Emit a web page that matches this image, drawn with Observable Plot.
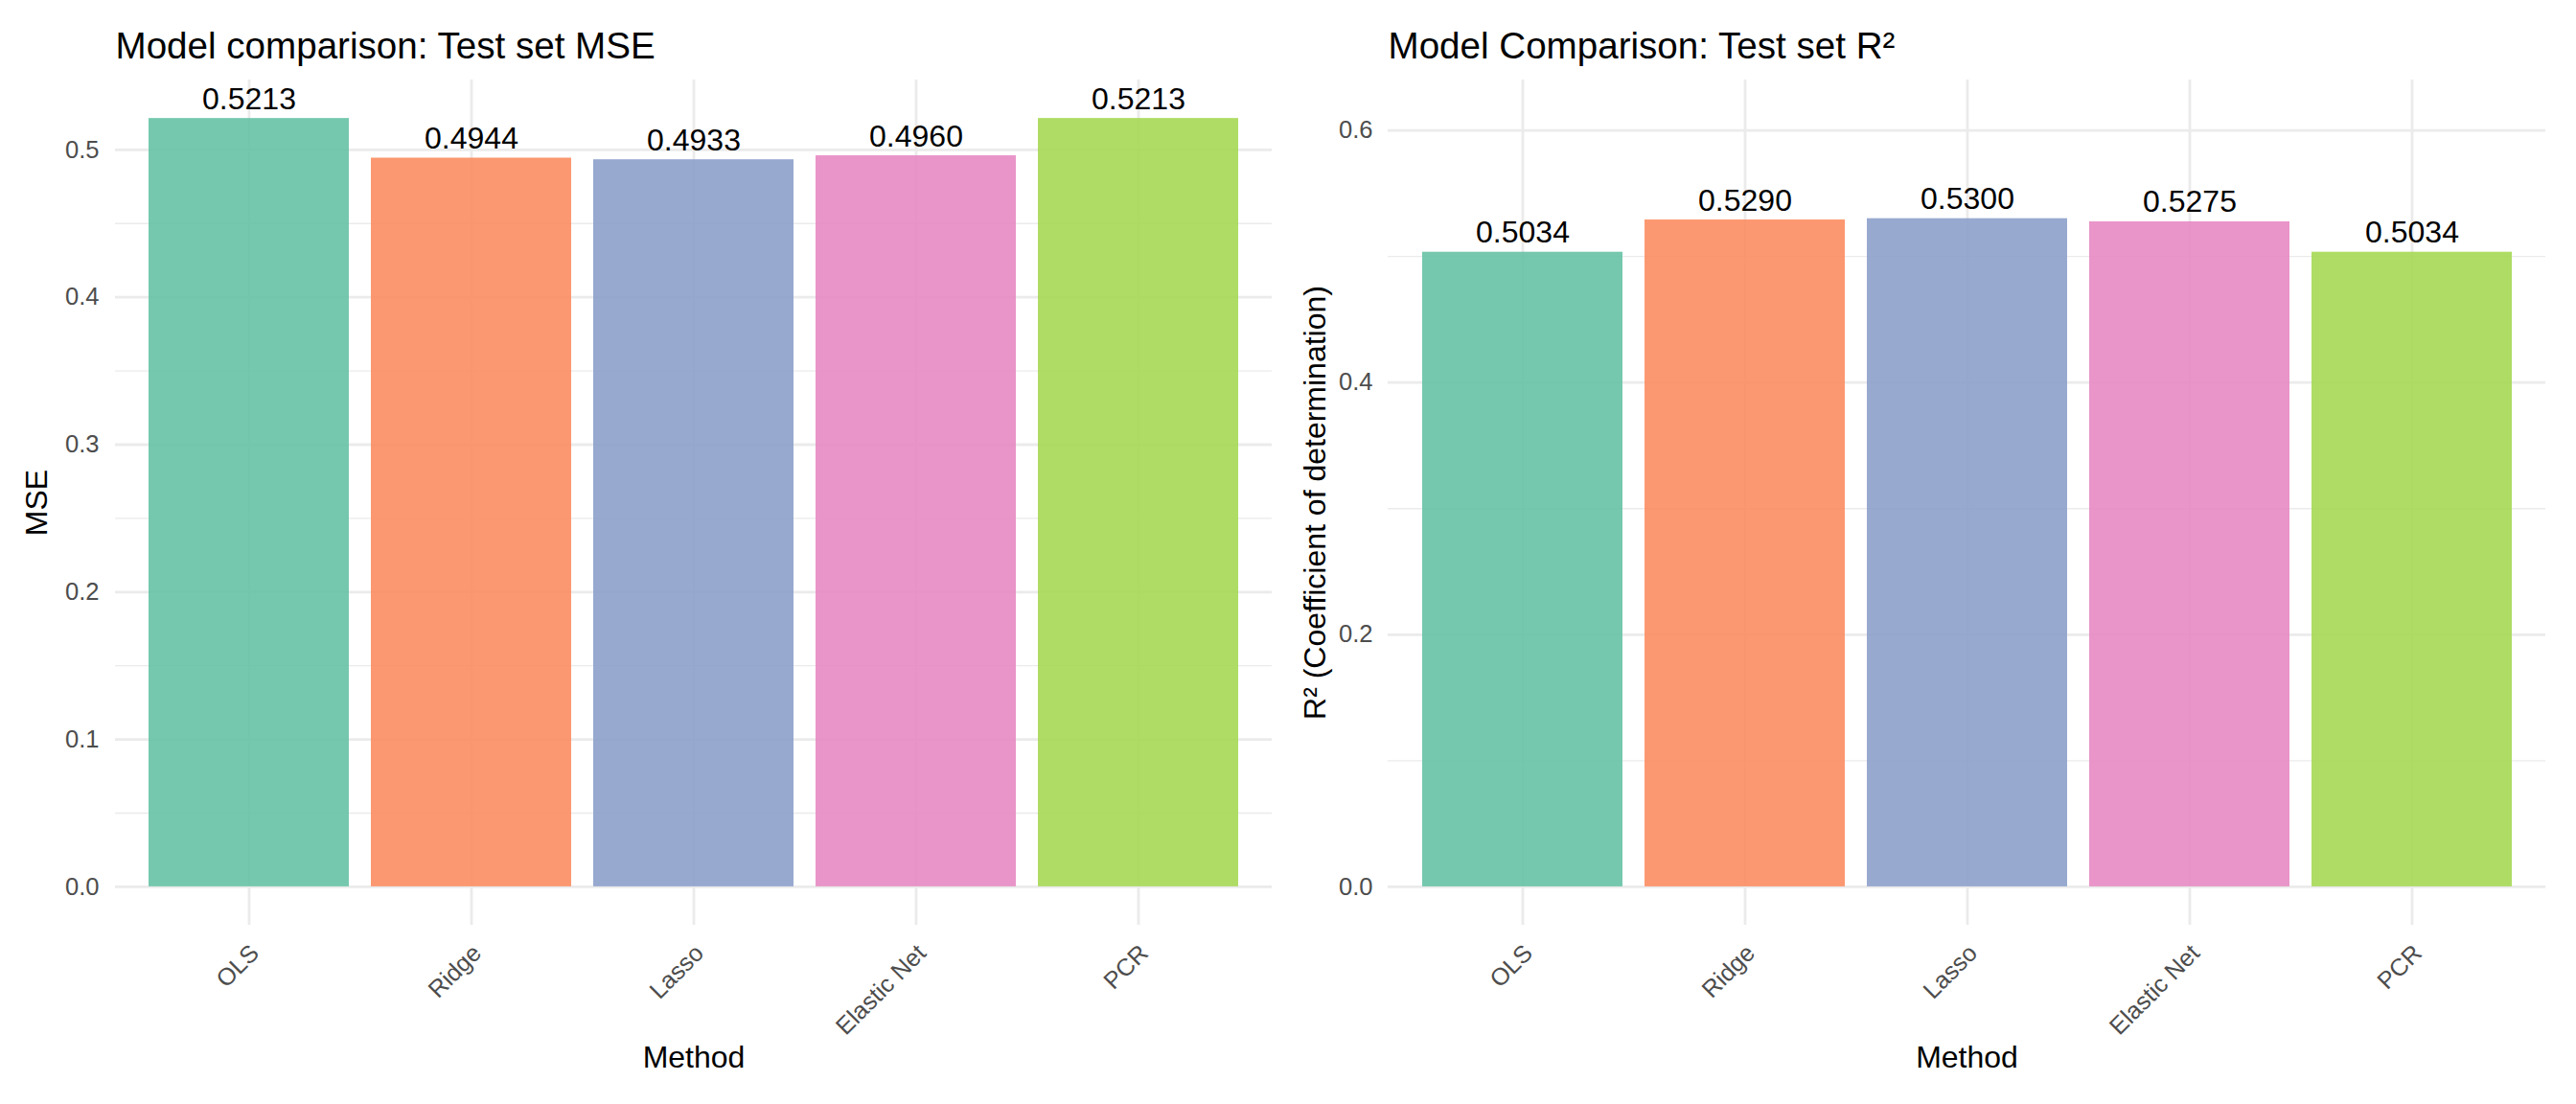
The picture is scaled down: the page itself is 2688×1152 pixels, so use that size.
<!DOCTYPE html>
<html>
<head>
<meta charset="utf-8">
<script src="https://cdn.jsdelivr.net/npm/d3@7"></script>
<script src="https://cdn.jsdelivr.net/npm/@observablehq/plot@0.6"></script>
<style>
  html, body { margin: 0; padding: 0; background: white; }
  #wrap { display: flex; width: 2688px; height: 1152px; }
  #wrap > div { width: 1344px; height: 1152px; }
</style>
</head>
<body>
<div id="wrap"><div id="left"></div><div id="right"></div></div>
<script>
const methods = ["OLS", "Ridge", "Lasso", "Elastic Net", "PCR"];
const mseValues = [0.5213, 0.4944, 0.4933, 0.4960, 0.5213];
const r2Values = [0.5034, 0.5290, 0.5300, 0.5275, 0.5034];
const colors = ["#66C2A5", "#FC8D62", "#8DA0CB", "#E78AC3", "#A6D854"];
const mseMajor = [0, 0.1, 0.2, 0.3, 0.4, 0.5];
const mseMinor = [0.05, 0.15, 0.25, 0.35, 0.45];
const r2Major = [0, 0.2, 0.4, 0.6];
const r2Minor = [0.1, 0.3, 0.5];

const FONT = "'Liberation Sans', Arial, Helvetica, sans-serif";
const GRID = "#EBEBEB";

function panel({values, major, minor, domain, title, ylab, marginLeft, marginRight, ylabDx, tickPadding}) {
  const data = methods.map((m, i) => ({method: m, value: values[i]}));
  return Plot.plot({
    width: 1344,
    height: 1152,
    marginLeft,
    marginRight,
    marginTop: 83,
    marginBottom: 187,
    style: {fontFamily: FONT, background: "white"},
    x: {domain: methods, paddingInner: 0.1, paddingOuter: 0.15, label: null, axis: null},
    y: {domain, label: null},
    color: {domain: methods, range: colors},
    marks: [
      Plot.gridY(minor, {stroke: GRID, strokeOpacity: 1, strokeWidth: 1.4}),
      Plot.gridY(major, {stroke: GRID, strokeOpacity: 1, strokeWidth: 2.8}),
      Plot.gridX(methods, {stroke: GRID, strokeOpacity: 1, strokeWidth: 2.8}),
      Plot.barY(data, {x: "method", y: "value", fill: "method", fillOpacity: 0.9}),
      Plot.text(data, {x: "method", y: "value", text: d => d.value.toFixed(4), dy: -10, lineAnchor: "bottom", fontSize: 32, fill: "black"}),
      Plot.axisY(major, {tickSize: 0, tickPadding, fontSize: 25.6, fill: "#4D4D4D", tickFormat: d3.format(".1f"), label: null}),
      Plot.text(methods, {x: d => d, frameAnchor: "bottom", rotate: -45, textAnchor: "end", lineAnchor: "top", dx: -1, dy: 18, fontSize: 25.2, fill: "#4D4D4D"}),
      Plot.text([title], {frameAnchor: "top-left", dy: -23, lineAnchor: "bottom", textAnchor: "start", fontSize: 38.6, fill: "black"}),
      Plot.text([ylab], {frameAnchor: "left", dx: ylabDx, rotate: -90, lineAnchor: "middle", textAnchor: "middle", fontSize: 32, fill: "black"}),
      Plot.text(["Method"], {frameAnchor: "bottom", dy: 138, lineAnchor: "middle", fontSize: 32, fill: "black"})
    ]
  });
}

document.getElementById("left").appendChild(panel({
  values: mseValues, major: mseMajor, minor: mseMinor,
  domain: [-0.0261, 0.5474],
  title: "Model comparison: Test set MSE", ylab: "MSE",
  marginLeft: 120, marginRight: 17, ylabDx: -82, tickPadding: 17
}));
document.getElementById("right").appendChild(panel({
  values: r2Values, major: r2Major, minor: r2Minor,
  domain: [-0.0305, 0.640],
  title: "Model Comparison: Test set R²", ylab: "R² (Coefficient of determination)",
  marginLeft: 104, marginRight: 32, ylabDx: -76, tickPadding: 16
}));
</script>
</body>
</html>
